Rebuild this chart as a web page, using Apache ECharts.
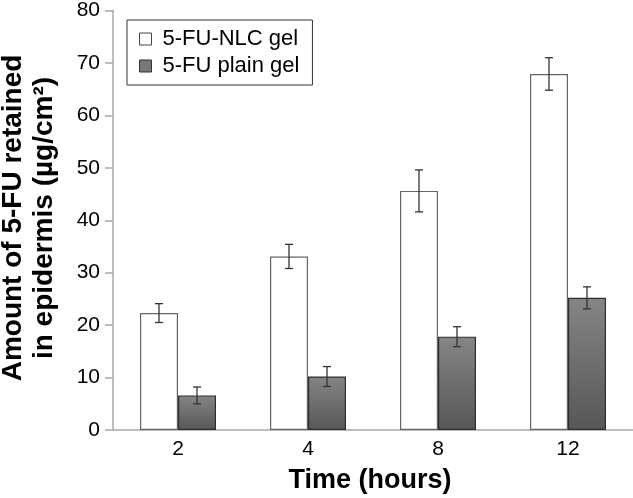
<!DOCTYPE html>
<html>
<head>
<meta charset="utf-8">
<script src="https://cdn.jsdelivr.net/npm/echarts@6/dist/echarts.min.js"></script>
<style>html,body{margin:0;padding:0;background:#fff}#c{width:633px;height:498px}</style>
</head>
<body>
<div id="c"></div>
<script>
var categories = ['2', '4', '8', '12'];
var nlcValues = [22.3, 33.1, 45.6, 67.9];
var nlcErrors = [1.8, 2.3, 4.0, 3.1];
var plainValues = [6.6, 10.2, 17.8, 25.2];
var plainErrors = [1.6, 1.9, 1.9, 2.1];
var yTicks = [0, 10, 20, 30, 40, 50, 60, 70, 80];
var seriesNames = ['5-FU-NLC gel', '5-FU plain gel'];

var FONT = '"Liberation Sans", Arial, Helvetica, sans-serif';
var BAR_W = 38;

function errData(vals, errs) {
  return vals.map(function (v, i) { return [i, v - errs[i], v + errs[i]]; });
}
function errSeries(vals, errs, offset) {
  return {
    type: 'custom',
    silent: true,
    z: 10,
    data: errData(vals, errs),
    renderItem: function (params, api) {
      var hi = api.coord([api.value(0), api.value(2)]);
      var lo = api.coord([api.value(0), api.value(1)]);
      var cx = hi[0] + offset;
      var cap = 4;
      var st = { stroke: '#333', lineWidth: 1.3 };
      return {
        type: 'group',
        children: [
          { type: 'line', shape: { x1: cx, y1: hi[1], x2: cx, y2: lo[1] }, style: st },
          { type: 'line', shape: { x1: cx - cap, y1: hi[1], x2: cx + cap, y2: hi[1] }, style: st },
          { type: 'line', shape: { x1: cx - cap, y1: lo[1], x2: cx + cap, y2: lo[1] }, style: st }
        ]
      };
    }
  };
}

var chart = echarts.init(document.getElementById('c'), null, { renderer: 'canvas' });
chart.setOption({
  animation: false,
  backgroundColor: '#fff',
  textStyle: { fontFamily: FONT },
  grid: { left: 113, right: -8, top: 6, bottom: 68, containLabel: false },
  legend: {
    orient: 'vertical',
    left: 127,
    top: 20,
    padding: [8, 13, 8, 12],
    itemGap: 5,
    itemWidth: 12,
    itemHeight: 12,
    icon: 'rect',
    borderColor: '#333',
    borderWidth: 1,
    data: [
      { name: seriesNames[0], itemStyle: { color: '#fff', borderColor: '#444', borderWidth: 1 } },
      { name: seriesNames[1], itemStyle: { color: '#777', borderColor: '#333', borderWidth: 1 } }
    ],
    textStyle: { fontFamily: FONT, fontSize: 22, color: '#000', padding: [0, 0, 0, 6], lineHeight: 22 }
  },
  xAxis: {
    type: 'category',
    data: categories,
    axisLine: { lineStyle: { color: '#a8a8a8', width: 1.5 } },
    axisTick: { show: false },
    axisLabel: { fontFamily: FONT, fontSize: 21, color: '#000', margin: 9 }
  },
  yAxis: {
    type: 'value',
    min: 0,
    max: 80,
    interval: 10,
    splitLine: { show: false },
    axisLine: { show: true, lineStyle: { color: '#a8a8a8', width: 1.5 } },
    axisTick: { show: true, inside: false, length: 8, lineStyle: { color: '#a8a8a8', width: 1.5 } },
    axisLabel: {
      fontFamily: FONT, fontSize: 21, color: '#000', margin: 13,
      formatter: function (v) { return yTicks.indexOf(v) >= 0 ? String(v) : ''; }
    }
  },
  series: [
    {
      name: seriesNames[0],
      type: 'bar',
      data: nlcValues,
      barWidth: BAR_W,
      barGap: '0%',
      itemStyle: { color: '#ffffff', borderColor: '#666', borderWidth: 1.2 }
    },
    {
      name: seriesNames[1],
      type: 'bar',
      data: plainValues,
      barWidth: BAR_W,
      barGap: '0%',
      itemStyle: {
        color: new echarts.graphic.LinearGradient(0, 0, 0, 1, [
          { offset: 0, color: '#858585' },
          { offset: 1, color: '#575757' }
        ]),
        borderColor: '#2e2e2e',
        borderWidth: 1.2
      }
    },
    errSeries(nlcValues, nlcErrors, -BAR_W / 2),
    errSeries(plainValues, plainErrors, BAR_W / 2)
  ],
  graphic: [
    {
      type: 'text',
      x: 29, y: 218,
      rotation: Math.PI / 2,
      style: {
        text: 'Amount of 5-FU retained\nin epidermis (µg/cm²)',
        fontFamily: FONT, fontSize: 28, fontWeight: 'bold', fill: '#000',
        textAlign: 'center', textVerticalAlign: 'middle', lineHeight: 31
      }
    },
    {
      type: 'text',
      x: 370, y: 481,
      style: {
        text: 'Time (hours)',
        fontFamily: FONT, fontSize: 27, fontWeight: 'bold', fill: '#000',
        textAlign: 'center', textVerticalAlign: 'middle'
      }
    }
  ]
});
</script>
</body>
</html>
